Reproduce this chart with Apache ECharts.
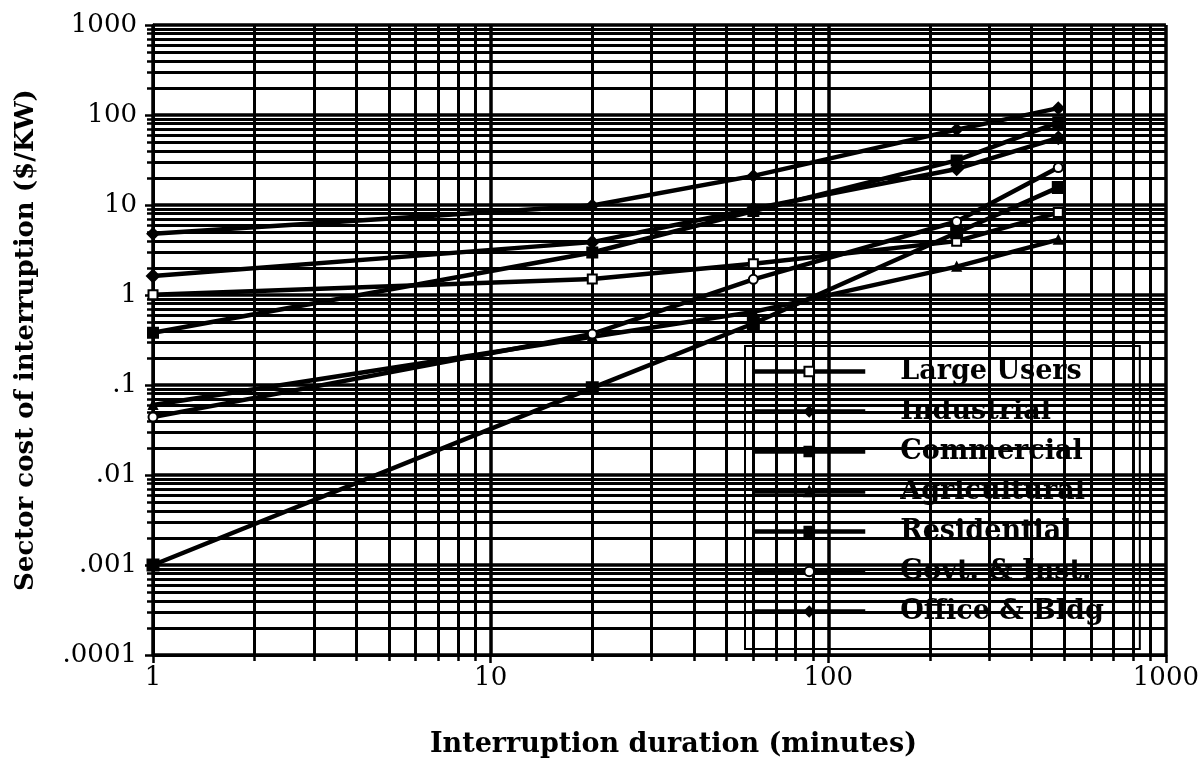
<!DOCTYPE html>
<html>
<head>
<meta charset="utf-8">
<script src="https://cdn.jsdelivr.net/npm/echarts@6/dist/echarts.min.js"></script>
<style>
  html, body { margin: 0; padding: 0; background: #fff; }
  #chart { width: 1202px; height: 773px; }
</style>
</head>
<body>
<div id="chart"></div>
<script>
// Interruption durations (minutes)
const durations = [1, 20, 60, 240, 480];

// Sector customer damage, $/kW
const largeUsers   = [1.005, 1.508, 2.225, 3.968, 8.240];
const industrial   = [1.625, 3.868, 9.085, 25.16, 55.81];
const commercial   = [0.381, 2.969, 8.552, 31.32, 83.01];
const agricultural = [0.060, 0.343, 0.649, 2.064, 4.120];
const residential  = [0.001, 0.093, 0.482, 4.914, 15.69];
const govtInst     = [0.044, 0.369, 1.492, 6.558, 26.04];
const officeBldg   = [4.778, 9.878, 21.06, 68.83, 119.2];

const sectorNames = ['Large Users', 'Industrial', 'Commercial', 'Agricultural',
                     'Residential', 'Govt. & Inst.', 'Office & Bldg'];

// Axis tick labels
const yTickValues = [0.0001, 0.001, 0.01, 0.1, 1, 10, 100, 1000];
const yTickLabels = ['.0001', '.001', '.01', '.1', '1', '10', '100', '1000'];
const xTickValues = [1, 10, 100, 1000];
const xTickLabels = ['1', '10', '100', '1000'];

const SERIF = '"DejaVu Serif", "Liberation Serif", serif';

const markerStyles = [
  { symbol: 'rect',     size: 9,  fill: '#fff' },
  { symbol: 'diamond',  size: 12, fill: '#000' },
  { symbol: 'rect',     size: 10, fill: '#000' },
  { symbol: 'triangle', size: 8,  fill: '#000' },
  { symbol: 'rect',     size: 11, fill: '#000' },
  { symbol: 'circle',   size: 9,  fill: '#fff' },
  { symbol: 'diamond',  size: 11, fill: '#000' }
];

const sectorValues = [largeUsers, industrial, commercial, agricultural,
                      residential, govtInst, officeBldg];

function pairs(values) {
  return durations.map((d, i) => [d, values[i]]);
}

function labelFor(values, labels) {
  return v => {
    for (let i = 0; i < values.length; i++) {
      if (Math.abs(Math.log10(v) - Math.log10(values[i])) < 1e-6) return labels[i];
    }
    return '';
  };
}

const series = sectorValues.map((vals, i) => ({
  name: sectorNames[i],
  type: 'line',
  data: pairs(vals),
  symbol: markerStyles[i].symbol,
  symbolSize: markerStyles[i].size,
  showAllSymbol: true,
  lineStyle: { color: '#000', width: 4.5 },
  itemStyle: { color: markerStyles[i].fill, borderColor: '#000', borderWidth: 2 },
  emphasis: { disabled: true },
  z: 5
}));

const chart = echarts.init(document.getElementById('chart'), null, { renderer: 'canvas' });
chart.setOption({
  animation: false,
  backgroundColor: '#fff',
  grid: { left: 153, right: 30, top: 25, bottom: 118 },
  legend: {
    data: sectorNames,
    orient: 'vertical',
    left: 745,
    top: 346,
    itemWidth: 112,
    itemHeight: 12,
    itemGap: 13,
    padding: [12, 36, 24, 6],
    borderColor: '#000',
    borderWidth: 2,
    lineStyle: { color: '#000', width: 4.5 },
    textStyle: {
      fontFamily: SERIF, fontWeight: 'bold', fontSize: 27, color: '#000',
      padding: [0, 0, 0, 30]
    },
    selectedMode: false
  },
  xAxis: {
    type: 'log',
    logBase: 10,
    min: 1,
    max: 1000,
    name: 'Interruption duration (minutes)',
    nameLocation: 'middle',
    nameGap: 76,
    nameTextStyle: {
      fontFamily: SERIF, fontWeight: 'bold', fontSize: 27, color: '#000',
      padding: [0, 0, 0, 28]
    },
    axisLine: { lineStyle: { color: '#000', width: 3 } },
    axisTick: { show: true, length: 8, lineStyle: { color: '#000', width: 2.5 } },
    minorTick: { show: true, splitNumber: 9, length: 6, lineStyle: { color: '#000', width: 2.5 } },
    splitLine: { show: true, lineStyle: { color: '#000', width: 3.5 } },
    minorSplitLine: { show: true, lineStyle: { color: '#000', width: 3 } },
    axisLabel: {
      fontFamily: SERIF, fontSize: 26, color: '#000', margin: 10,
      formatter: labelFor(xTickValues, xTickLabels)
    }
  },
  yAxis: {
    type: 'log',
    logBase: 10,
    min: 0.0001,
    max: 1000,
    name: 'Sector cost of interruption ($/KW)',
    nameLocation: 'middle',
    nameGap: 114,
    nameTextStyle: { fontFamily: SERIF, fontWeight: 'bold', fontSize: 26, color: '#000' },
    axisLine: { lineStyle: { color: '#000', width: 3 } },
    axisTick: { show: true, length: 8, lineStyle: { color: '#000', width: 2.5 } },
    minorTick: { show: true, splitNumber: 9, length: 6, lineStyle: { color: '#000', width: 2.5 } },
    splitLine: { show: true, lineStyle: { color: '#000', width: 3.5 } },
    minorSplitLine: { show: true, lineStyle: { color: '#000', width: 3 } },
    axisLabel: {
      fontFamily: SERIF, fontSize: 26, color: '#000', margin: 16,
      formatter: labelFor(yTickValues, yTickLabels)
    }
  },
  series: series
});
</script>
</body>
</html>
